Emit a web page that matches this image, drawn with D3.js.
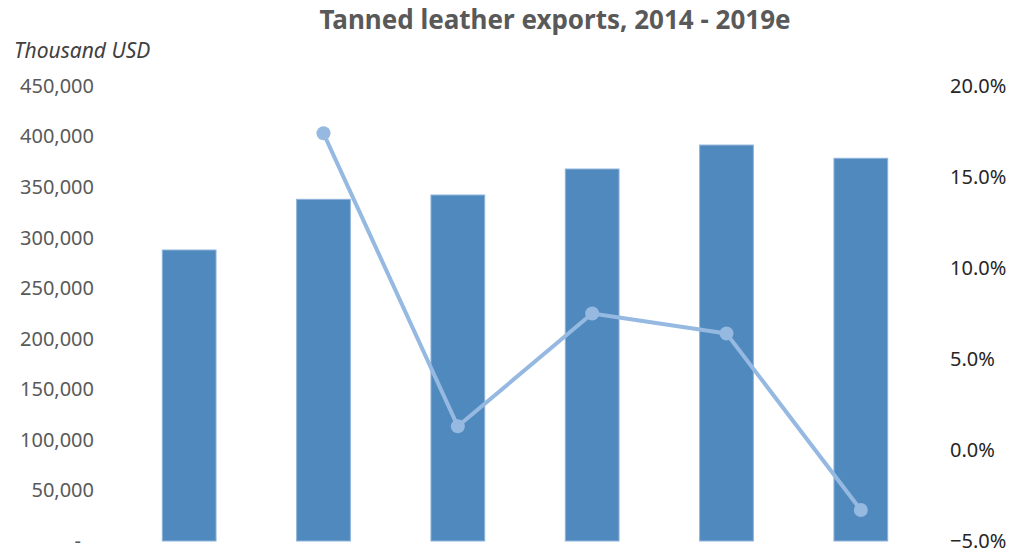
<!DOCTYPE html>
<html>
<head>
<meta charset="utf-8">
<script src="https://cdn.jsdelivr.net/npm/d3@7"></script>
<style>
  html, body { margin: 0; padding: 0; background: #fff; }
  svg { display: block; font-family: "Noto Sans", "Open Sans", sans-serif; }
</style>
</head>
<body>
<svg id="chart" width="1010" height="555"></svg>
<script>
// Tanned leather exports (thousand USD) and year-on-year growth
const years = ["2014", "2015", "2016", "2017", "2018", "2019e"];
const exportsValue = [287800, 337900, 342200, 367900, 391600, 378500];
const growthYears = ["2015", "2016", "2017", "2018", "2019e"];
const growthPct = [17.4, 1.3, 7.5, 6.4, -3.3];
const leftTicks = [0, 50000, 100000, 150000, 200000, 250000, 300000, 350000, 400000, 450000];
const rightTicks = [-5, 0, 5, 10, 15, 20];

const svg = d3.select("#chart");
const plot = { left: 122, right: 928, top: 86, bottom: 541 };

const x = d3.scaleBand().domain(years).range([plot.left, plot.right]).paddingInner(0.6).paddingOuter(0.3);
const yL = d3.scaleLinear().domain([0, 450000]).range([plot.bottom, plot.top]);
const yR = d3.scaleLinear().domain([-5, 20]).range([plot.bottom, plot.top]);

// Title and unit label
svg.append("text")
  .attr("x", 555).attr("y", 29)
  .attr("text-anchor", "middle")
  .attr("font-size", 26).attr("font-weight", "bold")
  .attr("fill", "#595959")
  .text("Tanned leather exports, 2014 - 2019e");

svg.append("text")
  .attr("x", 14).attr("y", 58)
  .attr("font-size", 21).attr("font-style", "italic")
  .attr("fill", "#404040")
  .text("Thousand USD");

// Left axis (values)
const fmt = d3.format(",");
const leftAxis = d3.axisLeft(yL).tickValues(leftTicks).tickSize(0).tickPadding(0)
  .tickFormat(d => d === 0 ? "-" : fmt(d));
svg.append("g")
  .attr("transform", `translate(${94},0)`)
  .call(leftAxis)
  .call(g => g.select(".domain").remove())
  .call(g => g.selectAll("text")
    .attr("font-size", 20).attr("fill", "#595959")
    .attr("font-family", "Noto Sans, Open Sans, sans-serif")
    .attr("dx", d => d === 0 ? -13 : 0));

// Right axis (growth %)
const rightAxis = d3.axisRight(yR).tickValues(rightTicks).tickSize(0).tickPadding(0)
  .tickFormat(d => d3.format(".1f")(d) + "%");
svg.append("g")
  .attr("transform", `translate(${950},0)`)
  .call(rightAxis)
  .call(g => g.select(".domain").remove())
  .call(g => g.selectAll("text")
    .attr("font-size", 20).attr("fill", "#262626")
    .attr("font-family", "Noto Sans, Open Sans, sans-serif"));

// Bars
svg.append("g").selectAll("rect")
  .data(years.map((y, i) => ({ year: y, value: exportsValue[i] })))
  .join("rect")
  .attr("x", d => x(d.year))
  .attr("y", d => yL(d.value))
  .attr("width", x.bandwidth())
  .attr("height", d => yL(0) - yL(d.value))
  .attr("fill", "#4f89bd")
  .attr("stroke", "#8db3dc")
  .attr("stroke-width", 1);

// Growth line
const growth = growthYears.map((y, i) => ({ year: y, value: growthPct[i] }));
const cx = d => x(d.year) + x.bandwidth() / 2;
svg.append("path")
  .datum(growth)
  .attr("fill", "none")
  .attr("stroke", "#95b9e1")
  .attr("stroke-width", 4)
  .attr("stroke-linejoin", "round")
  .attr("d", d3.line().x(cx).y(d => yR(d.value)));

svg.append("g").selectAll("circle")
  .data(growth)
  .join("circle")
  .attr("cx", cx)
  .attr("cy", d => yR(d.value))
  .attr("r", 7)
  .attr("fill", "#95b9e1");
</script>
</body>
</html>
